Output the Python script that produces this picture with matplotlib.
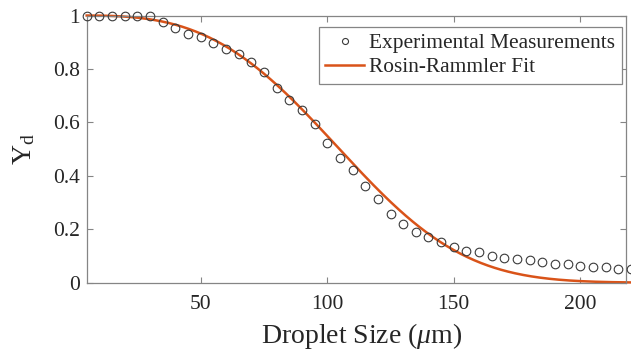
import matplotlib

matplotlib.use("Agg")

import matplotlib.pyplot as plt
import numpy as np

# droplet size bins (um) and measured cumulative fraction Y_d
droplet_size = [
    5, 10, 15, 20, 25, 30, 35, 40, 45, 50,
    55, 60, 65, 70, 75, 80, 85, 90, 95, 100,
    105, 110, 115, 120, 125, 130, 135, 140, 145, 150,
    155, 160, 165, 170, 175, 180, 185, 190, 195, 200,
    205, 210, 215, 220,
]
measured_yd = [
    1.000, 1.000, 1.000, 1.000, 1.000, 1.000, 0.974, 0.954, 0.930, 0.918,
    0.898, 0.876, 0.857, 0.827, 0.787, 0.730, 0.684, 0.647, 0.594, 0.524,
    0.466, 0.420, 0.362, 0.315, 0.258, 0.221, 0.191, 0.170, 0.151, 0.134,
    0.120, 0.114, 0.099, 0.094, 0.088, 0.084, 0.078, 0.070, 0.071, 0.064,
    0.060, 0.059, 0.052, 0.051,
]

# Rosin-Rammler fit parameters
D_BAR = 118.0
N_SPREAD = 3.1

x_ticks = [50, 100, 150, 200]
y_ticks = [0, 0.2, 0.4, 0.6, 0.8, 1]
y_tick_labels = ["0", "0.2", "0.4", "0.6", "0.8", "1"]

FIT_COLOR = "#D95319"
AXIS_COLOR = "#858585"
TEXT_COLOR = "#262626"

plt.rcParams["font.family"] = ["Liberation Serif", "DejaVu Serif"]
plt.rcParams["mathtext.fontset"] = "custom"
plt.rcParams["mathtext.rm"] = "Liberation Serif"
plt.rcParams["mathtext.it"] = "Liberation Serif:italic"


def main():
    fig = plt.figure(figsize=(6.31, 3.54), dpi=100)
    ax = fig.add_axes([0.1374, 0.2014, 0.8546, 0.7548])

    ax.plot(
        droplet_size,
        measured_yd,
        linestyle="none",
        marker="o",
        markersize=6.2,
        markerfacecolor="none",
        markeredgecolor="#3a3a3a",
        markeredgewidth=0.8,
        clip_on=False,
        zorder=3,
        label="Experimental Measurements",
    )

    d_fine = np.linspace(min(droplet_size), max(droplet_size), 400)
    fit_yd = np.exp(-((d_fine / D_BAR) ** N_SPREAD))
    ax.plot(
        d_fine,
        fit_yd,
        color=FIT_COLOR,
        linewidth=1.8,
        clip_on=False,
        zorder=2,
        label="Rosin-Rammler Fit",
    )

    ax.set_xlim(5, 218)
    ax.set_ylim(0, 1)
    ax.set_xticks(x_ticks)
    ax.set_yticks(y_ticks)
    ax.set_yticklabels(y_tick_labels)

    for spine in ax.spines.values():
        spine.set_color(AXIS_COLOR)
        spine.set_linewidth(0.9)

    ax.tick_params(
        direction="in",
        length=4,
        width=0.8,
        color=AXIS_COLOR,
        labelcolor=TEXT_COLOR,
        labelsize=15.5,
        top=True,
        right=True,
    )
    ax.tick_params(axis="x", pad=9)
    ax.tick_params(axis="y", pad=5)

    ax.set_xlabel(r"Droplet Size ($\mu$m)", fontsize=20, color=TEXT_COLOR, labelpad=5)
    ax.xaxis.label.set_x(0.51)
    ax.set_ylabel(r"Y$_\mathrm{d}$", fontsize=20, color=TEXT_COLOR, labelpad=11)

    legend = ax.legend(
        loc="upper right",
        bbox_to_anchor=(621.7 / 631, 1 - 26.7 / 354),
        bbox_transform=fig.transFigure,
        borderaxespad=0,
        fontsize=15.4,
        fancybox=False,
        framealpha=1,
        edgecolor=AXIS_COLOR,
        handlelength=1.8,
        handletextpad=0.25,
        markerscale=0.7,
        borderpad=0.3,
        labelspacing=0.2,
    )
    legend.get_frame().set_linewidth(0.9)
    for text in legend.get_texts():
        text.set_color(TEXT_COLOR)

    fig.savefig("out.png", dpi=100)


if __name__ == "__main__":
    main()
